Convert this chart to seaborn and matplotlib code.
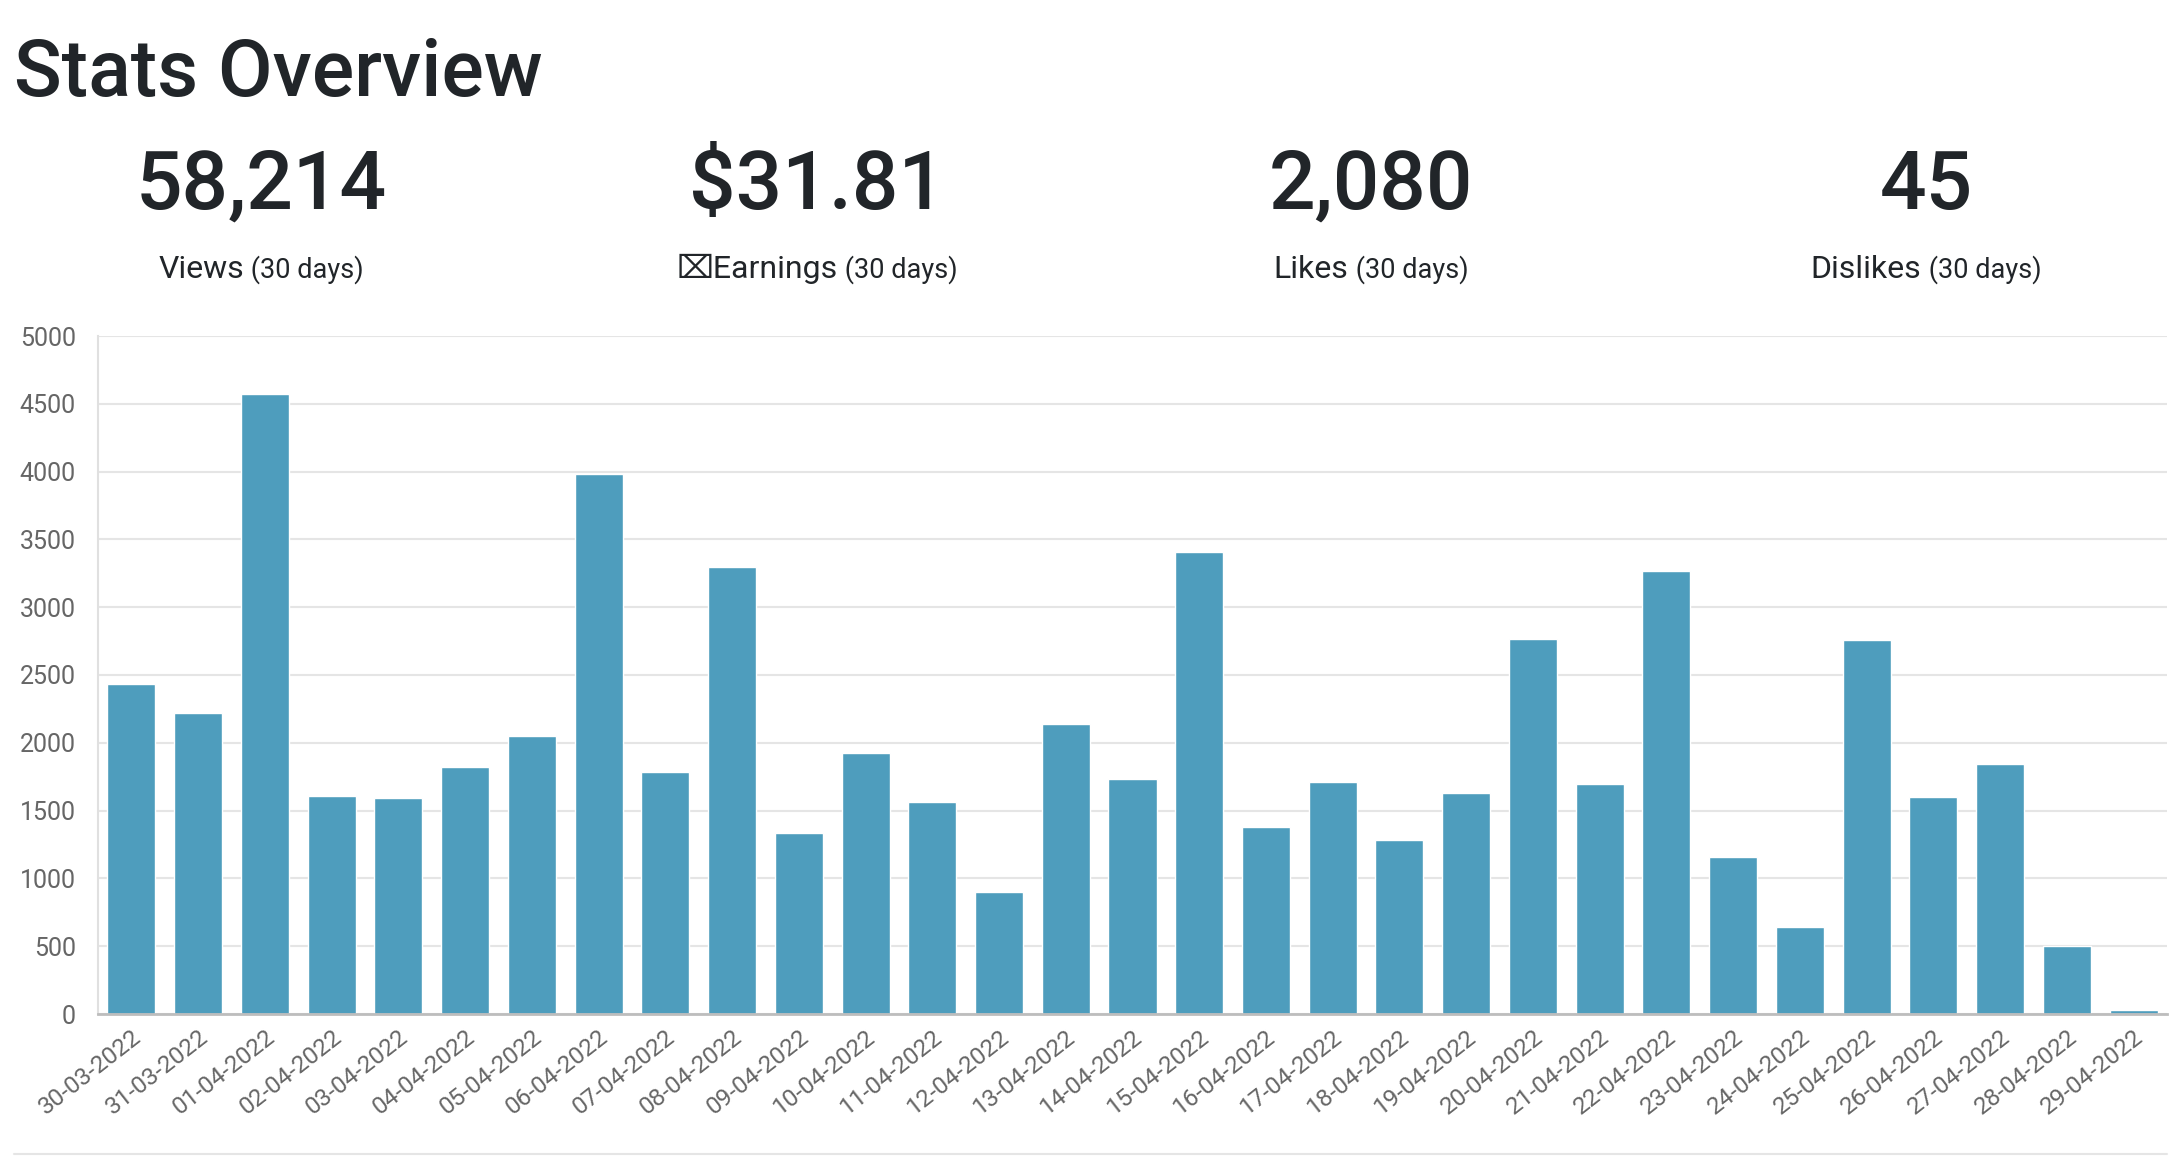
import matplotlib
matplotlib.use("Agg")
import matplotlib.pyplot as plt
import seaborn as sns
import pandas as pd
from matplotlib.offsetbox import TextArea, HPacker, AnnotationBbox

# data
dates = ['30-03-2022', '31-03-2022', '01-04-2022', '02-04-2022', '03-04-2022',
         '04-04-2022', '05-04-2022', '06-04-2022', '07-04-2022', '08-04-2022',
         '09-04-2022', '10-04-2022', '11-04-2022', '12-04-2022', '13-04-2022',
         '14-04-2022', '15-04-2022', '16-04-2022', '17-04-2022', '18-04-2022',
         '19-04-2022', '20-04-2022', '21-04-2022', '22-04-2022', '23-04-2022',
         '24-04-2022', '25-04-2022', '26-04-2022', '27-04-2022', '28-04-2022',
         '29-04-2022']
views = [2430, 2220, 4570, 1605, 1595, 1820, 2050, 3980, 1785, 3300,
         1335, 1925, 1565, 900, 2140, 1735, 3410, 1380, 1710, 1280,
         1630, 2765, 1695, 3265, 1155, 640, 2760, 1600, 1845, 500,
         30]

stat_values = ['58,214', '$31.81', '2,080', '45']
stat_names = ['Views', '\u2327Earnings', 'Likes', 'Dislikes']
stat_period = '(30 days)'

df = pd.DataFrame({'date': dates, 'views': views})

sns.set_theme(style="white")
FONT = ['Roboto', 'DejaVu Sans']
plt.rcParams['font.family'] = FONT

W, H = 2174, 1168
fig = plt.figure(figsize=(W / 100, H / 100), dpi=100)
fig.patch.set_facecolor('white')

def fx(px):
    return px / W

def fy(py):
    return 1 - py / H

# header
fig.text(fx(14), fy(96), 'Stats Overview', fontsize=57, fontweight='medium',
         color='#212529', ha='left', va='baseline')

centers = [261, 817, 1371, 1926]
for cx, val, name in zip(centers, stat_values, stat_names):
    fig.text(fx(cx), fy(209), val, fontsize=59, fontweight='medium',
             color='#212529', ha='center', va='baseline')
    box = HPacker(children=[
        TextArea(name, textprops=dict(fontsize=23, color='#212529', family=FONT)),
        TextArea(' ' + stat_period, textprops=dict(fontsize=19.5, color='#212529', family=FONT)),
    ], align='baseline', pad=0, sep=0)
    ab = AnnotationBbox(box, (fx(cx), fy(284)), xycoords='figure fraction',
                        box_alignment=(0.5, 0.0), frameon=False, pad=0)
    fig.add_artist(ab)

# bar chart
ax = fig.add_axes([fx(98), fy(1014), fx(2167) - fx(98), fy(336) - fy(1014)])
sns.barplot(data=df, x='date', y='views', color='#4e9dbd', saturation=1,
            width=0.72, ax=ax)
ax.set_xlim(-0.5, len(dates) - 0.5)
ax.set_ylim(0, 5000)
ax.set_yticks(range(0, 5001, 500))
ax.set_xlabel('')
ax.set_ylabel('')
ax.yaxis.grid(True, color='#e5e5e5', linewidth=1.5)
ax.xaxis.grid(False)
ax.set_axisbelow(True)
for s in ['top', 'right']:
    ax.spines[s].set_visible(False)
ax.spines['left'].set_color('#e0e0e0')
ax.spines['left'].set_linewidth(1.5)
ax.spines['bottom'].set_color('#bdbdbd')
ax.spines['bottom'].set_linewidth(2)
ax.tick_params(axis='y', length=14, width=1.5, color='#e5e5e5', pad=2,
               labelsize=18, labelcolor='#666666')
ax.tick_params(axis='x', length=0, pad=8, labelsize=17.5, labelcolor='#666666')
plt.setp(ax.get_xticklabels(), rotation=38, ha='right', rotation_mode='anchor')

# thin divider under the chart
fig.add_artist(plt.Line2D([fx(14), fx(2167)], [fy(1154), fy(1154)],
                          color='#e5e5e5', linewidth=1.5))

fig.savefig('out.png', dpi=100, facecolor='white')
